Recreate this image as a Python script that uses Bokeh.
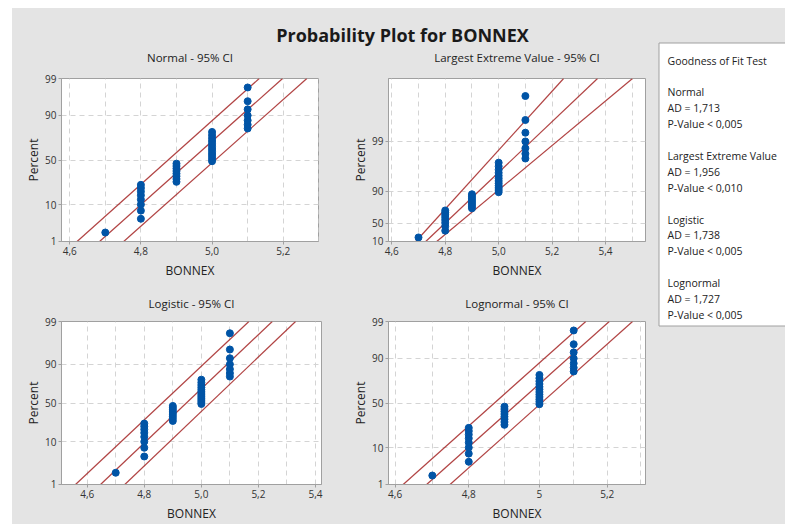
import math
from statistics import NormalDist
from bokeh.plotting import figure
from bokeh.models import Range1d, FixedTicker, CustomJSTickFormatter, Spacer
from bokeh.layouts import row, column
from bokeh.core.properties import value
from bokeh.embed import file_html
from bokeh.resources import INLINE

# ---------------- data ----------------
bonnex = [4.7,
          4.8, 4.8, 4.8, 4.8, 4.8, 4.8, 4.8, 4.8,
          4.9, 4.9, 4.9, 4.9, 4.9, 4.9, 4.9, 4.9,
          5.0, 5.0, 5.0, 5.0, 5.0, 5.0, 5.0, 5.0, 5.0, 5.0, 5.0, 5.0,
          5.1, 5.1, 5.1, 5.1, 5.1, 5.1, 5.1]

# fitted line and 95% CI lines: (location, scale) on each distribution's scale
normal_lines = [(4.8766, 0.1100), (4.9410, 0.1105), (5.0090, 0.1106)]
lev_lines = [(4.8276, 0.09031), (4.8873, 0.10494), (4.9508, 0.11958)]
logistic_lines = [(4.8629, 0.0661), (4.9476, 0.06547), (5.0310, 0.0651)]
lognormal_lines = [(1.58347, 0.022676), (1.59703, 0.022677), (1.61052, 0.02266)]

pct_ticks = [1, 10, 50, 90, 99]
pct_labels = ["1", "10", "50", "90", "99"]
lev_pct_ticks = [1, 10, 50, 90]
lev_pct_labels = ["10", "50", "90", "99"]
pct_grid = [10, 50, 90]

normal_x_ticks = [4.6, 4.8, 5.0, 5.2]
normal_x_labels = ["4,6", "4,8", "5,0", "5,2"]
lev_x_ticks = [4.6, 4.8, 5.0, 5.2, 5.4]
lev_x_labels = ["4,6", "4,8", "5,0", "5,2", "5,4"]
logistic_x_ticks = [4.6, 4.8, 5.0, 5.2, 5.4]
logistic_x_labels = ["4,6", "4,8", "5,0", "5,2", "5,4"]
lognormal_x_ticks = [4.6, 4.8, 5.0, 5.2]
lognormal_x_labels = ["4,6", "4,8", "5", "5,2"]
x_grid_ticks = [4.5, 4.6, 4.7, 4.8, 4.9, 5.0, 5.1, 5.2, 5.3, 5.4, 5.5]

panel_titles = ["Normal - 95% CI", "Largest Extreme Value - 95% CI",
                "Logistic - 95% CI", "Lognormal - 95% CI"]
main_title = "Probability Plot for BONNEX"

gof_names = ["Normal", "Largest Extreme Value", "Logistic", "Lognormal"]
gof_ad = ["1,713", "1,956", "1,738", "1,727"]
gof_p = ["< 0,005", "< 0,010", "< 0,005", "< 0,005"]

# ---------------- styling ----------------
FONT = "Open Sans"
BG = "#e4e4e4"
POINT = "#0054a6"
LINE = "#a83030"
GRID = "#d4d4d4"
FRAME = "#a0a0a0"
TXT = "#222222"
BGSTYLE = {"background-color": BG}

nd = NormalDist()
def t_normal(p):
    return nd.inv_cdf(p / 100.0)
def t_lev(p):
    q = p / 100.0
    return -math.log(-math.log(q))
def t_logistic(p):
    q = p / 100.0
    return math.log(q / (1 - q))

xs = sorted(bonnex)
n = len(xs)
median_rank = [(i - 0.3) / (n + 0.4) * 100 for i in range(1, n + 1)]

FMT_CODE = """
let best = 0, bd = Infinity;
for (let i = 0; i < tv.length; i++) {
  const d = Math.abs(tv[i] - tick);
  if (d < bd) { bd = d; best = i; }
}
return lbl[best];
"""

def fmt(tick_vals, labels):
    return CustomJSTickFormatter(args=dict(tv=list(tick_vals), lbl=list(labels)), code=FMT_CODE)


def strip(w, h):
    s = figure(width=w, height=h, x_range=Range1d(0, w), y_range=Range1d(h, 0),
               output_backend="svg", toolbar_location=None, min_border=0,
               background_fill_color=BG, border_fill_color=BG, outline_line_color=None)
    s.axis.visible = False
    s.grid.visible = False
    return s


def panel(w, h, borders, xr, x_type, x_ticks, x_labels, tf, y_ticks, y_labels,
          lines, log_x):
    left, right, top, bottom = borders
    y0, y1 = tf(1), tf(99)
    p = figure(width=w, height=h, x_range=Range1d(*xr),
               y_range=Range1d(y0 - 1e-6, y1 + 1e-6), x_axis_type=x_type,
               output_backend="svg", toolbar_location=None, title=None,
               min_border_left=left, min_border_right=right,
               min_border_top=top, min_border_bottom=bottom,
               background_fill_color="white", border_fill_color=BG,
               outline_line_color=FRAME, outline_line_width=1)

    # axes
    p.xaxis.ticker = FixedTicker(ticks=x_ticks)
    p.xaxis.formatter = fmt(x_ticks, x_labels)
    yt = [tf(v) for v in y_ticks]
    p.yaxis.ticker = FixedTicker(ticks=yt)
    p.yaxis.formatter = fmt(yt, y_labels)
    p.xaxis.axis_label = "BONNEX"
    p.yaxis.axis_label = "Percent"
    for ax in (p.xaxis, p.yaxis):
        ax.axis_line_color = FRAME
        ax.major_tick_line_color = FRAME
        ax.major_tick_out = 3
        ax.major_tick_in = 0
        ax.minor_tick_line_color = None
        ax.major_label_text_font = FONT
        ax.major_label_text_font_size = "10px"
        ax.major_label_text_color = "#333333"
        ax.major_label_standoff = 2
        ax.axis_label_text_font = FONT
        ax.axis_label_text_font_size = "12px"
        ax.axis_label_text_font_style = "normal"
        ax.axis_label_text_color = TXT
    p.xaxis.axis_label_standoff = 4
    p.yaxis.axis_label_standoff = 0

    # grids
    p.xgrid.ticker = FixedTicker(ticks=x_grid_ticks)
    p.ygrid.ticker = FixedTicker(ticks=[tf(v) for v in pct_grid])
    for g in (p.xgrid, p.ygrid):
        g.grid_line_color = GRID
        g.grid_line_dash = "5 4"
        g.grid_line_width = 1

    # fitted line and CI lines
    for a, b in lines:
        ys_line = [y0, y1]
        if log_x:
            xs_line = [math.exp(a + b * y) for y in ys_line]
        else:
            xs_line = [a + b * y for y in ys_line]
        p.line(xs_line, ys_line, line_color=LINE, line_width=1.2, line_alpha=0.9)

    # points
    p.scatter(xs, [tf(v) for v in median_rank], size=7, fill_color=POINT,
              line_color=POINT, marker="circle")
    return p


p1 = panel(323, 224, (49, 17, 11, 49), (4.577, 5.299), "linear",
           normal_x_ticks, normal_x_labels, t_normal, pct_ticks, pct_labels,
           normal_lines, False)
p2 = panel(321, 224, (53, 11, 12, 49), (4.5877, 5.5495), "linear",
           lev_x_ticks, lev_x_labels, t_lev, lev_pct_ticks, lev_pct_labels,
           lev_lines, False)
p3 = panel(323, 212, (49, 14, 8, 40), (4.510, 5.421), "linear",
           logistic_x_ticks, logistic_x_labels, t_logistic, pct_ticks, pct_labels,
           logistic_lines, False)
p4 = panel(321, 212, (53, 11, 9, 39), (4.5825, 5.316), "log",
           lognormal_x_ticks, lognormal_x_labels, t_normal, pct_ticks, pct_labels,
           lognormal_lines, True)

# strip with the main title and the titles of the upper panels
s1 = strip(644, 58)
s1.text(x=[390], y=[26], text=[main_title], text_font=value(FONT),
        text_font_size="18px", text_font_style="bold", text_color="#1a1a1a",
        text_align="center", text_baseline="middle")
s1.text(x=[177.5, 504.5], y=[49, 49], text=panel_titles[:2], text_font=value(FONT),
        text_font_size="11.5px", text_color=TXT, text_align="center", text_baseline="middle")

# strip with the titles of the lower panels
s2 = strip(644, 22)
s2.text(x=[179, 504.5], y=[12.5, 12.5], text=panel_titles[2:], text_font=value(FONT),
        text_font_size="11.5px", text_color=TXT, text_align="center", text_baseline="middle")

# goodness-of-fit box
lw, lh = 129, 516
lfig = strip(lw, lh)
lfig.quad(left=[2.5], right=[lw + 5], top=[34.5], bottom=[317.5], fill_color="white",
          line_color=FRAME, line_width=1)
lines_txt = ["Goodness of Fit Test", ""]
for nm, ad, pv in zip(gof_names, gof_ad, gof_p):
    lines_txt += [nm, "AD = " + ad, "P-Value " + pv, ""]
lines_txt = lines_txt[:-1]
ly = [52 + 15.9 * i for i in range(len(lines_txt))]
lfig.text(x=[11] * len(lines_txt), y=ly, text=lines_txt, text_font=value(FONT),
          text_font_size="10.5px", text_color=TXT, text_baseline="middle")

top_row = row(p1, p2, styles=BGSTYLE)
bottom_row = row(p3, p4, styles=BGSTYLE)
left_col = column(s1, top_row, s2, bottom_row, styles=BGSTYLE)
main = row(left_col, lfig, styles=BGSTYLE)
layout = column(Spacer(width=785, height=8), row(Spacer(width=12, height=516), main))

open("out.html", "w").write(file_html(layout, INLINE))
